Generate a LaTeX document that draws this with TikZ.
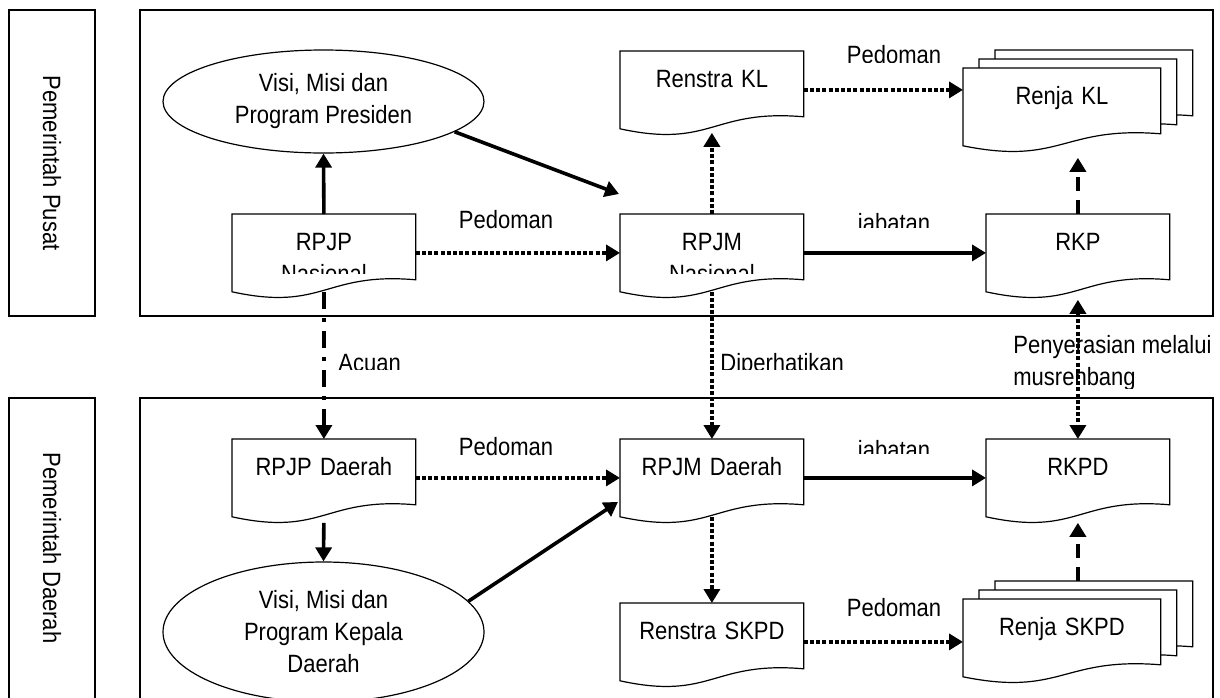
\documentclass[tikz,border=0pt]{standalone}
\usepackage{fontspec}
\setmainfont{Liberation Sans}[FakeStretch=0.88]
\usetikzlibrary{shapes.geometric, arrows.meta, backgrounds}

\newcommand{\docpath}[3]{%
  \draw[docline] ([xshift=#2,yshift=#3]#1.south west) -- ([xshift=#2,yshift=#3]#1.north west)
    -- ([xshift=#2,yshift=#3]#1.north east) -- ([xshift=#2,yshift=#3+6pt]#1.south east)
    .. controls ([xshift=#2,yshift=#3+10pt]#1.south) and ([xshift=#2,yshift=#3-10pt]#1.south)
    .. ([xshift=#2,yshift=#3]#1.south west) -- cycle;}

\tikzset{
  doc/.style={inner sep=0pt, text width=#1, align=center, text height=18pt, text depth=20.5pt, anchor=north west},
  docline/.style={line width=0.6pt, fill=white},
  visi/.style={ellipse, draw, line width=0.6pt, minimum width=160.5pt, inner sep=0pt, align=center},
  lbl/.style={inner sep=0pt, anchor=base},
  headtip/.style={-{Triangle[length=7pt,width=8pt]}},
  solidarr/.style={headtip, line width=1.8pt},
  dotarr/.style={headtip, line width=2pt, dash pattern=on 2pt off 1.1pt},
  dasharr/.style={headtip, line width=1.9pt, dash pattern=on 7pt off 4.5pt},
  dashdotarr/.style={headtip, line width=1.9pt, dash pattern=on 8.5pt off 4.5pt on 2pt off 4.5pt},
  panel/.style={line width=0.6pt}
}

\begin{document}
\begin{tikzpicture}[x=0.5pt, y=-0.5pt, font=\fontsize{12.5pt}{16pt}\selectfont]
    \useasboundingbox (0,0) rectangle (1220,697);

    \draw[panel] (9,10) rectangle (95,316);
    \draw[panel] (9,398) rectangle (95,710);
    \draw[panel] (140,10) rectangle (1213,316);
    \draw[panel] (140,398) rectangle (1213,710);
    \node[rotate=-90] (pusat) at (52,163) {Pemerintah Pusat};
    \node[rotate=-90] (daerah) at (52,548) {Pemerintah Daerah};

    \node[doc=91.5pt] (renstrak) at (620,51) {Renstra KL};
    \node[doc=98.5pt] (renjak) at (963,68) {Renja KL};
    \begin{scope}
        \clip (200,200) rectangle (820,273);
        \node[doc=91.5pt] (rpjpn) at (232,214) {RPJP\\Nasional};
        \node[doc=91.5pt] (rpjmn) at (620,214) {RPJM\\Nasional};
    \end{scope}
    \node[doc=91.5pt] (rkp) at (986,214) {RKP};
    \node[doc=91.5pt] (rpjpd) at (232,439) {RPJP Daerah};
    \node[doc=91.5pt] (rpjmd) at (620,439) {RPJM Daerah};
    \node[doc=91.5pt] (rkpd) at (986,439) {RKPD};
    \node[doc=91.5pt] (renstras) at (620,603) {Renstra SKPD};
    \node[doc=98.5pt] (renjas) at (963,599) {Renja SKPD};
    \begin{scope}
        \clip (150,40) rectangle (500,130);
        \node[visi, draw=none, minimum height=51.5pt] (visip) at (323.5,101.5) {Visi, Misi dan\\Program Presiden};
    \end{scope}
    \draw[line width=0.6pt] (visip.center) ellipse (160.5 and 51.5);
    \node[visi, minimum height=70pt] (visik) at (323.5,632) {Visi, Misi dan\\Program Kepala\\Daerah};

    \begin{scope}[on background layer]
        \foreach \n in {rpjpn, rpjmn, rkp, renstrak, rpjpd, rpjmd, rkpd, renstras} {\docpath{\n}{0pt}{0pt}}
        \foreach \n in {renjak, renjas} {\docpath{\n}{16pt}{9pt} \docpath{\n}{8pt}{4.5pt} \docpath{\n}{0pt}{0pt}}
    \end{scope}

    \node[lbl] (pedoman2) at (506,228) {Pedoman};
    \node[lbl] (pedoman3) at (506,455) {Pedoman};
    \node[lbl] (pedoman4) at (894,616) {Pedoman};
    \begin{scope}
        \clip (800,30) rectangle (960,62);
        \node[lbl] (pedoman1) at (894,63) {Pedoman};
    \end{scope}
    \begin{scope}
        \clip (800,200) rectangle (960,227);
        \node[lbl] (jabatan1) at (894,231) {jabatan};
    \end{scope}
    \begin{scope}
        \clip (800,420) rectangle (960,453);
        \node[lbl] (jabatan2) at (894,458) {jabatan};
    \end{scope}
    \begin{scope}
        \clip (330,330) rectangle (900,369);
        \node[lbl, anchor=base west] (acuan) at (338,371) {Acuan};
        \node[lbl, anchor=base west] (diperhatikan) at (720,371) {Diperhatikan};
    \end{scope}
    \begin{scope}
        \clip (1005,320) rectangle (1218,388);
        \node[lbl, anchor=north west, align=left] (penyerasian) at (1013,335) {Penyerasian melalui\\musrenbang};
    \end{scope}

    \path (renjas.north -| rkpd.south) ++(0,-18) coordinate (renjastop);

    \draw[solidarr] (rpjpn.north) -- (visip.south);
    \draw[solidarr] (visip.-13) -- ([xshift=-0.5pt,yshift=10pt]rpjmn.north west);
    \draw[dotarr] (rpjpn.east) -- (rpjmn.west);
    \draw[solidarr] (rpjmn.east) -- (rkp.west);
    \draw[dotarr] (rpjmn.north) -- ([yshift=-2pt]renstrak.south);
    \draw[dotarr] (renstrak.east) -- (renstrak.east -| renjak.west);
    \draw[dasharr, shorten >=6pt] (rkp.north) -- (rkp.north |- renjak.south);
    \draw[dashdotarr] (rpjpn.south) -- (rpjpd.north);
    \draw[dotarr] (rpjmn.south) -- (rpjmd.north);
    \draw[dotarr, {Triangle[length=7pt,width=8pt]}-{Triangle[length=7pt,width=8pt]}, shorten <=4pt] (rkp.south) -- (rkpd.north);
    \draw[dotarr] (rpjpd.east) -- (rpjmd.west);
    \draw[solidarr] (rpjmd.east) -- (rkpd.west);
    \draw[solidarr, shorten <=3pt] (rpjpd.south) -- (visik.north);
    \draw[solidarr] (visik.12) -- ([xshift=-1pt,yshift=-12pt]rpjmd.west);
    \draw[dotarr] (rpjmd.south) -- (renstras.north);
    \draw[dotarr] (renstras.east) -- (renstras.east -| renjas.west);
    \draw[dasharr, shorten >=3pt] (renjastop) -- (rkpd.south);
\end{tikzpicture}
\end{document}
